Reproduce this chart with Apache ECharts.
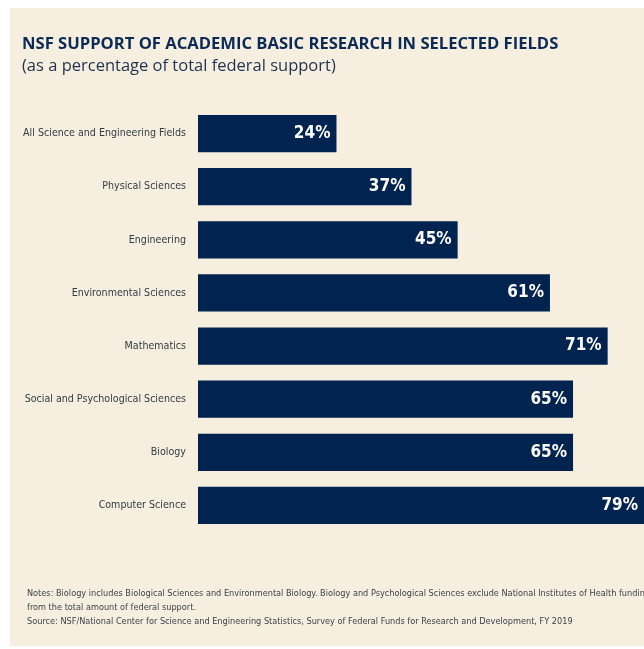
<!DOCTYPE html>
<html>
<head>
<meta charset="utf-8">
<script src="https://cdn.jsdelivr.net/npm/echarts@6/dist/echarts.min.js"></script>
<style>
html,body{margin:0;padding:0;background:#ffffff;}
#chart{width:644px;height:649px;}
</style>
</head>
<body>
<div id="chart"></div>
<script>
const categories = [
  "All Science and Engineering Fields",
  "Physical Sciences",
  "Engineering",
  "Environmental Sciences",
  "Mathematics",
  "Social and Psychological Sciences",
  "Biology",
  "Computer Science"
];
const values = [24, 37, 45, 61, 71, 65, 65, 79];
const titleText = "NSF SUPPORT OF ACADEMIC BASIC RESEARCH IN SELECTED FIELDS";
const subtitleText = "(as a percentage of total federal support)";
const noteLines = [
  "Notes: Biology includes Biological Sciences and Environmental Biology. Biology and Psychological Sciences exclude National Institutes of Health funding",
  "from the total amount of federal support.",
  "Source: NSF/National Center for Science and Engineering Statistics, Survey of Federal Funds for Research and Development, FY 2019"
];

const narrow = '"Liberation Sans Narrow", "DejaVu Sans Condensed", "Roboto Condensed", "Open Sans Condensed", sans-serif';
const chart = echarts.init(document.getElementById('chart'), null, {renderer: 'canvas'});
const navy = '#00234f';
const noteY = [594, 608, 622];

const graphics = [
  {type: 'rect', z: -10, shape: {x: 10, y: 8, width: 640, height: 638}, style: {fill: '#f6efdf'}},
  {type: 'text', style: {text: titleText, x: 22, y: 44, fill: '#0b2a55', font: 'bold 16.6px "Open Sans"', verticalAlign: 'middle'}},
  {type: 'text', style: {text: subtitleText, x: 22, y: 66, fill: '#1f3150', font: '16.5px "Open Sans"', verticalAlign: 'middle'}}
];
noteLines.forEach((t, i) => {
  graphics.push({type: 'text', style: {text: t, x: 27, y: noteY[i], fill: '#3b3f48', font: '9.1px ' + narrow, verticalAlign: 'middle'}});
});

chart.setOption({
  backgroundColor: '#ffffff',
  animation: false,
  graphic: graphics,
  grid: {left: 198, top: 107, height: 425, right: 0, containLabel: false},
  xAxis: {type: 'value', min: 0, max: 77.3, show: false},
  yAxis: {
    type: 'category',
    data: categories,
    inverse: true,
    axisLine: {show: false},
    axisTick: {show: false},
    axisLabel: {
      margin: 12,
      color: '#333a44',
      fontFamily: narrow,
      fontSize: 10.6
    }
  },
  series: [{
    type: 'bar',
    data: values,
    barCategoryGap: '30%',
    clip: true,
    itemStyle: {color: navy},
    label: {
      show: true,
      position: 'insideRight',
      distance: 6,
      formatter: '{c}%',
      color: '#ffffff',
      fontFamily: narrow,
      fontWeight: 'bold',
      fontSize: 17
    }
  }]
});
</script>
</body>
</html>
